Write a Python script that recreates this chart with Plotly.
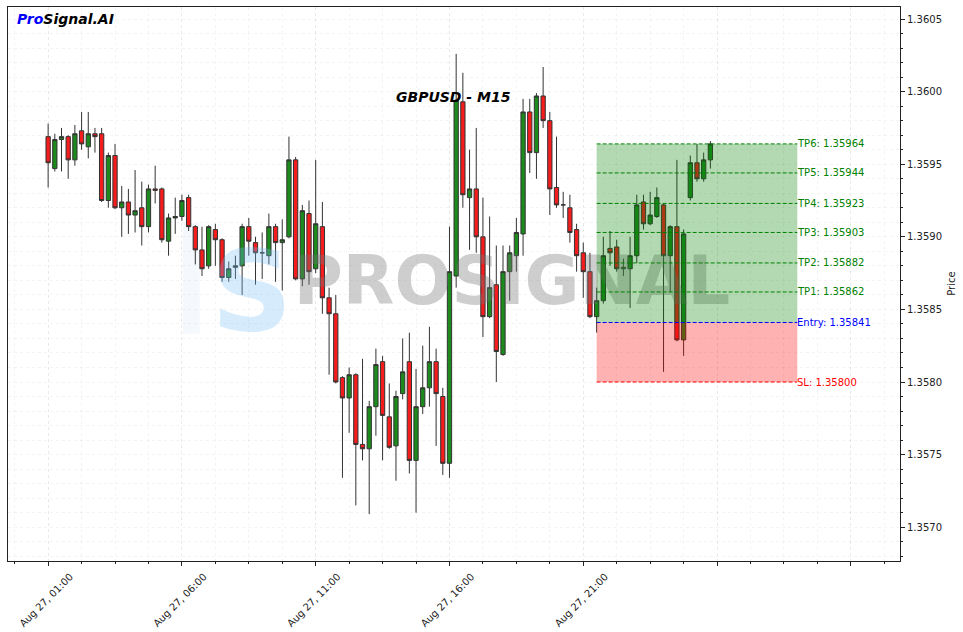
import pandas as pd
import plotly.graph_objects as go

# ---------------- data ----------------
chart_title = "GBPUSD - M15"
start_time = pd.Timestamp("2025-08-27 01:00")
bar_minutes = 15

opens = [
    1.35969, 1.35947, 1.35967, 1.35969, 1.35953, 1.35973, 1.35962, 1.35971, 1.35971, 1.35925,
    1.35956, 1.35920, 1.35924, 1.35915, 1.35920, 1.35907, 1.35933, 1.35933, 1.35897, 1.35913,
    1.35914, 1.35927, 1.35907, 1.35891, 1.35880, 1.35905, 1.35898, 1.35872, 1.35879, 1.35880,
    1.35907, 1.35896, 1.35889, 1.35887, 1.35907, 1.35896, 1.35900, 1.35953, 1.35871, 1.35916,
    1.35878, 1.35907, 1.35858, 1.35847, 1.35803, 1.35789, 1.35805, 1.35757, 1.35754, 1.35783,
    1.35814, 1.35776, 1.35756, 1.35792, 1.35814, 1.35746, 1.35783, 1.35796, 1.35814, 1.35790,
    1.35744, 1.35873, 1.35993, 1.35927, 1.35933, 1.35900, 1.35845, 1.35867, 1.35819, 1.35876,
    1.35887, 1.35902, 1.35986, 1.35958, 1.35997, 1.35980, 1.35934, 1.35922, 1.35920, 1.35905,
    1.35889, 1.35876, 1.35845, 1.35856, 1.35892, 1.35893, 1.35878, 1.35878, 1.35887, 1.35924,
    1.35909, 1.35914, 1.35922, 1.35887, 1.35907, 1.35829, 1.35927, 1.35951, 1.35940, 1.35953,
]
highs = [
    1.35978, 1.35971, 1.35975, 1.35970, 1.35977, 1.35986, 1.35986, 1.35975, 1.35975, 1.35958,
    1.35964, 1.35935, 1.35933, 1.35946, 1.35938, 1.35936, 1.35949, 1.35934, 1.35916, 1.35927,
    1.35929, 1.35929, 1.35908, 1.35907, 1.35908, 1.35909, 1.35899, 1.35883, 1.35887, 1.35909,
    1.35913, 1.35900, 1.35903, 1.35916, 1.35909, 1.35912, 1.35969, 1.35955, 1.35922, 1.35925,
    1.35953, 1.35924, 1.35865, 1.35860, 1.35804, 1.35810, 1.35806, 1.35816, 1.35787, 1.35823,
    1.35818, 1.35799, 1.35794, 1.35830, 1.35834, 1.35809, 1.35825, 1.35838, 1.35823, 1.35796,
    1.35907, 1.36026, 1.36013, 1.35960, 1.35975, 1.35927, 1.35914, 1.35894, 1.35894, 1.35894,
    1.35913, 1.35995, 1.35995, 1.35999, 1.36017, 1.35986, 1.35969, 1.35931, 1.35929, 1.35909,
    1.35896, 1.35889, 1.35865, 1.35900, 1.35904, 1.35898, 1.35885, 1.35900, 1.35929, 1.35929,
    1.35931, 1.35934, 1.35923, 1.35908, 1.35953, 1.35905, 1.35956, 1.35964, 1.35958, 1.35966,
]
lows = [
    1.35934, 1.35945, 1.35945, 1.35940, 1.35949, 1.35960, 1.35954, 1.35958, 1.35924, 1.35920,
    1.35919, 1.35900, 1.35902, 1.35903, 1.35894, 1.35903, 1.35923, 1.35896, 1.35887, 1.35902,
    1.35911, 1.35904, 1.35881, 1.35873, 1.35878, 1.35880, 1.35869, 1.35869, 1.35871, 1.35860,
    1.35887, 1.35867, 1.35871, 1.35881, 1.35869, 1.35863, 1.35899, 1.35870, 1.35866, 1.35867,
    1.35875, 1.35847, 1.35805, 1.35799, 1.35734, 1.35765, 1.35715, 1.35746, 1.35709, 1.35763,
    1.35746, 1.35754, 1.35732, 1.35788, 1.35737, 1.35710, 1.35778, 1.35783, 1.35756, 1.35736,
    1.35734, 1.35865, 1.35920, 1.35891, 1.35889, 1.35831, 1.35844, 1.35800, 1.35818, 1.35856,
    1.35876, 1.35887, 1.35944, 1.35940, 1.35975, 1.35915, 1.35920, 1.35913, 1.35896, 1.35876,
    1.35858, 1.35844, 1.35834, 1.35854, 1.35880, 1.35876, 1.35873, 1.35851, 1.35882, 1.35905,
    1.35908, 1.35913, 1.35807, 1.35862, 1.35828, 1.35818, 1.35925, 1.35938, 1.35938, 1.35947,
]
closes = [
    1.35951, 1.35967, 1.35969, 1.35953, 1.35971, 1.35964, 1.35971, 1.35969, 1.35925, 1.35956,
    1.35920, 1.35924, 1.35915, 1.35918, 1.35907, 1.35933, 1.35932, 1.35898, 1.35913, 1.35914,
    1.35925, 1.35907, 1.35891, 1.35878, 1.35907, 1.35898, 1.35872, 1.35878, 1.35880, 1.35907,
    1.35897, 1.35889, 1.35889, 1.35907, 1.35896, 1.35898, 1.35953, 1.35871, 1.35918, 1.35876,
    1.35909, 1.35858, 1.35847, 1.35800, 1.35789, 1.35805, 1.35757, 1.35754, 1.35783, 1.35812,
    1.35777, 1.35755, 1.35790, 1.35807, 1.35746, 1.35783, 1.35796, 1.35814, 1.35792, 1.35744,
    1.35876, 1.35994, 1.35929, 1.35933, 1.35900, 1.35845, 1.35865, 1.35821, 1.35876, 1.35889,
    1.35903, 1.35986, 1.35958, 1.35997, 1.35980, 1.35933, 1.35922, 1.35922, 1.35903, 1.35887,
    1.35876, 1.35845, 1.35856, 1.35887, 1.35889, 1.35878, 1.35879, 1.35887, 1.35922, 1.35909,
    1.35915, 1.35927, 1.35887, 1.35907, 1.35829, 1.35902, 1.35951, 1.35940, 1.35953, 1.35964,
]

entry_price = 1.35841
sl_price = 1.35800
tp_names = ["TP1", "TP2", "TP3", "TP4", "TP5", "TP6"]
tp_prices = [1.35862, 1.35882, 1.35903, 1.35923, 1.35944, 1.35964]
entry_bar = 82
zone_end_bar = 112

x_tick_bars = [0, 20, 40, 60, 80, 100, 120]
x_tick_text = ["Aug 27, 01:00", "Aug 27, 06:00", "Aug 27, 11:00", "Aug 27, 16:00",
               "Aug 27, 21:00", "", ""]
x_bar_range = [-6.0, 127.35]
y_range = [1.356767, 1.360583]

# ---------------- helpers ----------------
step = pd.Timedelta(minutes=bar_minutes)


def bar_time(b):
    return start_time + step * b


times = [bar_time(i) for i in range(len(opens))]
x_lo, x_hi = bar_time(x_bar_range[0]), bar_time(x_bar_range[1])


def px(f):  # fraction of plot width -> x value
    return x_lo + (x_hi - x_lo) * f


def py(f):  # fraction of plot height -> y value
    return y_range[0] + (y_range[1] - y_range[0]) * f


FONT = "DejaVu Sans"
fig = go.Figure()

# watermark (behind candles)
fig.add_trace(go.Scatter(
    x=[px(0.2735)], y=[py(0.468)], mode="text", text=["S"],
    textfont=dict(family=FONT, size=112, color="rgba(120,190,245,0.30)", weight="bold"),
    hoverinfo="skip", showlegend=False, cliponaxis=False))
fig.add_trace(go.Scatter(
    x=[px(0.565)], y=[py(0.495)], mode="text", text=["PROSIGNAL"],
    textfont=dict(family=FONT, size=67, color="rgba(120,120,120,0.36)", weight="bold"),
    hoverinfo="skip", showlegend=False, cliponaxis=False))

fig.add_trace(go.Candlestick(
    x=times, open=opens, high=highs, low=lows, close=closes,
    increasing=dict(fillcolor="#1c8a1c", line=dict(color="#333333", width=1)),
    decreasing=dict(fillcolor="#f41c1c", line=dict(color="#333333", width=1)),
    whiskerwidth=0, showlegend=False, hoverinfo="x+y"))

x0, x1 = bar_time(entry_bar), bar_time(zone_end_bar)
# faint bar of the logo
fig.add_shape(type="rect", xref="paper", yref="paper", x0=0.196, x1=0.215, y0=0.41, y1=0.61,
              fillcolor="rgba(200,220,242,0.18)", line=dict(width=0), layer="below")
# zones
fig.add_shape(type="rect", x0=x0, x1=x1, y0=entry_price, y1=max(tp_prices),
              fillcolor="rgba(0,128,0,0.3)", line=dict(width=0), layer="above")
fig.add_shape(type="rect", x0=x0, x1=x1, y0=sl_price, y1=entry_price,
              fillcolor="rgba(255,0,0,0.3)", line=dict(width=0), layer="above")

levels = [(f"{n}: {p:.5f}", p, "#008000") for n, p in zip(tp_names, tp_prices)]
levels += [(f"Entry: {entry_price:.5f}", entry_price, "#0000ff"),
           (f"SL: {sl_price:.5f}", sl_price, "#ff0000")]
for label, price, col in levels:
    fig.add_shape(type="line", x0=x0, x1=x1, y0=price, y1=price,
                  line=dict(color=col, width=1, dash="4px,2px"), layer="above")
    fig.add_annotation(x=x1, y=price, text=label, showarrow=False, xanchor="left",
                       yanchor="middle", xshift=-2,
                       font=dict(family=FONT, size=10, color=col))

# titles
fig.add_annotation(xref="paper", yref="paper", x=0.499, y=0.8375, xanchor="center",
                   yanchor="middle",
                   text="<b><i>" + chart_title + "</i></b>", showarrow=False,
                   font=dict(family=FONT, size=14, color="black"))
fig.add_annotation(xref="paper", yref="paper", x=0.008, y=0.978, xanchor="left",
                   yanchor="middle",
                   text="<b><i><span style='color:#0000ff'>Pro</span>Signal.AI</i></b>",
                   showarrow=False, font=dict(family=FONT, size=14, color="black"))
# y-axis title
fig.add_annotation(xref="paper", yref="paper", x=1.057, y=0.5, xanchor="center",
                   yanchor="middle", textangle=-90, text="Price", showarrow=False,
                   font=dict(family=FONT, size=10, color="#222"))

grid = dict(showgrid=True, gridcolor="rgba(0,0,0,0.045)", griddash="3px,3px", gridwidth=1)

fig.update_xaxes(
    range=[x_lo, x_hi], rangeslider_visible=False, automargin=False,
    tickmode="array", tickvals=[bar_time(b) for b in x_tick_bars], ticktext=x_tick_text,
    tickangle=-45, ticks="outside", ticklen=4, tickwidth=1, tickcolor="#222",
    ticklabelshift=22, ticklabelstandoff=1,
    tickfont=dict(family=FONT, size=10, color="#222"),
    showline=True, linecolor="#222", linewidth=1, mirror=True, zeroline=False,
    minor=dict(tickmode="linear", tick0=bar_time(0), dtick=5 * bar_minutes * 60000,
               ticks="outside", ticklen=2, tickcolor="#222", **grid),
    **grid)
fig.update_yaxes(
    side="right", range=y_range, tickmode="linear", tick0=1.3570, dtick=0.0005,
    automargin=False,
    tickformat=".4f", ticks="outside", ticklen=4, tickwidth=1, tickcolor="#222",
    tickfont=dict(family=FONT, size=10, color="#222"),
    showline=True, linecolor="#222", linewidth=1, mirror=True, zeroline=False,
    minor=dict(tickmode="linear", tick0=1.3570, dtick=0.0001, ticks="outside", ticklen=2,
               tickcolor="#222", **grid),
    **grid)

fig.update_layout(width=963, height=632, margin=dict(l=8, r=63, t=7, b=71),
                  paper_bgcolor="white", plot_bgcolor="white", showlegend=False,
                  boxgap=0.2, boxgroupgap=0.2,
                  font=dict(family=FONT, size=10, color="#222"))

fig.write_html("out.html", config={"displayModeBar": False},
               post_script="document.body.style.margin='0px';")
